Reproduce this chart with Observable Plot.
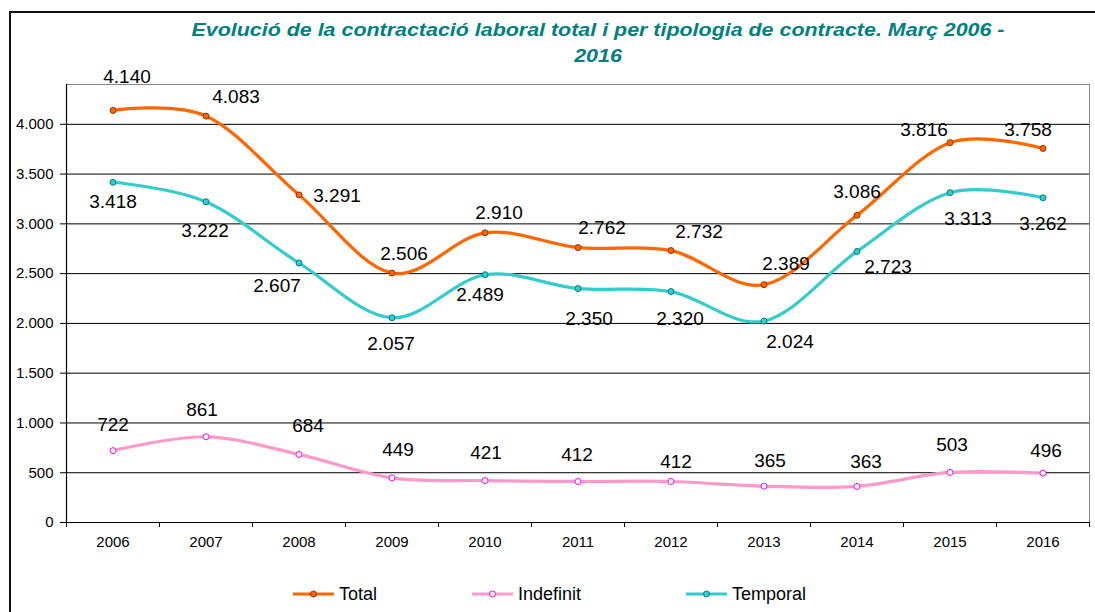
<!DOCTYPE html>
<html>
<head>
<meta charset="utf-8">
<script src="https://cdn.jsdelivr.net/npm/d3@7"></script>
<script src="https://cdn.jsdelivr.net/npm/@observablehq/plot@0.6"></script>
<style>
  html, body { margin: 0; padding: 0; background: #fff; }
  #wrap { position: relative; width: 1095px; height: 612px; overflow: hidden; font-family: "Liberation Sans", Arial, sans-serif; }
  #border { position: absolute; left: 9px; top: 11px; width: 1200px; height: 700px; border: 2px solid #111; box-sizing: border-box; }
  #title { position: absolute; left: 100px; top: 17px; width: 996px; text-align: center; color: #008080; font-weight: bold; font-style: italic; font-size: 18px; line-height: 26px; transform: scaleX(1.19); transform-origin: 498px 0; }
  #chart { position: absolute; left: 0; top: 0; }
  .leg { position: absolute; top: 583px; height: 22px; display: flex; align-items: center; font-size: 18px; color: #000; }
  .leg svg { margin-right: 5px; }
</style>
</head>
<body>
<div id="wrap">
  <div id="border"></div>
  <div id="chart"></div>
  <div id="title">Evolució de la contractació laboral total i per tipologia de contracte. Març 2006 -<br>2016</div>
  <div id="legend"></div>
</div>
<script>
// ---- data ----
const years = [2006, 2007, 2008, 2009, 2010, 2011, 2012, 2013, 2014, 2015, 2016];
const total = [4140, 4083, 3291, 2506, 2910, 2762, 2732, 2389, 3086, 3816, 3758];
const indefinit = [722, 861, 684, 449, 421, 412, 412, 365, 363, 503, 496];
const temporal = [3418, 3222, 2607, 2057, 2489, 2350, 2320, 2024, 2723, 3313, 3262];
const yTicks = [0, 500, 1000, 1500, 2000, 2500, 3000, 3500, 4000];
const seriesNames = ["Total", "Indefinit", "Temporal"];

// ---- label offsets (pixels) ----
const totalDx = [14, 30, 38, 12, 14, 24, 28, 22, 0, -26, -15];
const totalDy = [-33, -19, 1, -19, -20, -20, -19, -21, -23, -13, -19];
const temporalDx = [0, -1, -22, -1, -5, 11, 9, 26, 31, 18, 0];
const temporalDy = [20, 29, 23, 26, 20, 30, 27, 21, 15, 26, 26];
const indefDx = [0, -4, 9, 6, 1, -1, 5, 6, 9, 2, 3];
const indefDy = [-26, -27, -29, -28, -28, -27, -20, -25, -24, -28, -22];

// ---- styles ----
const styles = {
  Total: {line: "#FF6600", fill: "#FF6600", stroke: "#993300"},
  Indefinit: {line: "#FF99CC", fill: "#FFFFFF", stroke: "#FF00FF"},
  Temporal: {line: "#33CCCC", fill: "#33CCCC", stroke: "#008080"}
};

const fmt = d3.formatLocale({decimal: ",", thousands: ".", grouping: [3], currency: ["", ""]}).format(",d");

const seriesValues = {Total: total, Indefinit: indefinit, Temporal: temporal};
const rows = seriesNames.flatMap(s => years.map((yr, i) => ({series: s, year: yr, value: seriesValues[s][i], i})));
const boundaries = [...years.map(y => y - 0.5), years[years.length - 1] + 0.5];
const offsets = {
  Total: [totalDx, totalDy],
  Indefinit: [indefDx, indefDy],
  Temporal: [temporalDx, temporalDy]
};

const labelMarks = rows.map(r => Plot.text([r], {
  x: "year", y: "value", text: d => fmt(d.value),
  dx: offsets[r.series][0][r.i], dy: offsets[r.series][1][r.i],
  fontSize: 19, fill: "#000", textAnchor: "middle"
}));

const plot = Plot.plot({
  width: 1095,
  height: 612,
  marginLeft: 66,
  marginRight: 6,
  marginTop: 84,
  marginBottom: 90,
  style: {fontFamily: "'Liberation Sans', Arial, sans-serif", fontSize: "14px", color: "#000", background: "transparent", overflow: "visible"},
  x: {type: "linear", domain: [2005.5, 2016.5]},
  y: {type: "linear", domain: [0, 4400]},
  marks: [
    Plot.frame({stroke: "#888", strokeWidth: 1}),
    Plot.gridY(yTicks.filter(d => d > 0), {stroke: "#000", strokeOpacity: 1, strokeWidth: 1}),
    Plot.ruleX([2005.5], {stroke: "#000", strokeWidth: 1.2}),
    Plot.ruleY([0], {stroke: "#000", strokeWidth: 1.2}),
    Plot.axisY(yTicks, {tickSize: 6, tickPadding: 7, tickFormat: fmt, fontSize: 15, stroke: "#000", fill: "#000", label: null}),
    Plot.axisX(boundaries, {tickSize: 5, tickFormat: () => "", stroke: "#000", label: null}),
    Plot.axisX(years, {tickSize: 0, tickPadding: 14, tickFormat: d => String(d), fontSize: 15, fill: "#000", label: null}),
    ...seriesNames.map(s => Plot.line(rows.filter(r => r.series === s), {
      x: "year", y: "value", stroke: styles[s].line, strokeWidth: 3.2, curve: "cardinal"
    })),
    ...seriesNames.map(s => Plot.dot(rows.filter(r => r.series === s), {
      x: "year", y: "value", r: 3, fill: styles[s].fill, stroke: styles[s].stroke, strokeWidth: 1
    })),
    ...labelMarks
  ]
});
document.getElementById("chart").appendChild(plot);

// ---- legend ----
const legendX = {Total: 293, Indefinit: 472, Temporal: 686};
const legend = document.getElementById("legend");
seriesNames.forEach(s => {
  const item = document.createElement("div");
  item.className = "leg";
  item.style.left = legendX[s] + "px";
  item.innerHTML = `<svg width="41" height="12"><line x1="0" x2="41" y1="6" y2="6" stroke="${styles[s].line}" stroke-width="3.2"/><circle cx="20.5" cy="6" r="3" fill="${styles[s].fill}" stroke="${styles[s].stroke}"/></svg><span>${s}</span>`;
  legend.appendChild(item);
});
</script>
</body>
</html>
